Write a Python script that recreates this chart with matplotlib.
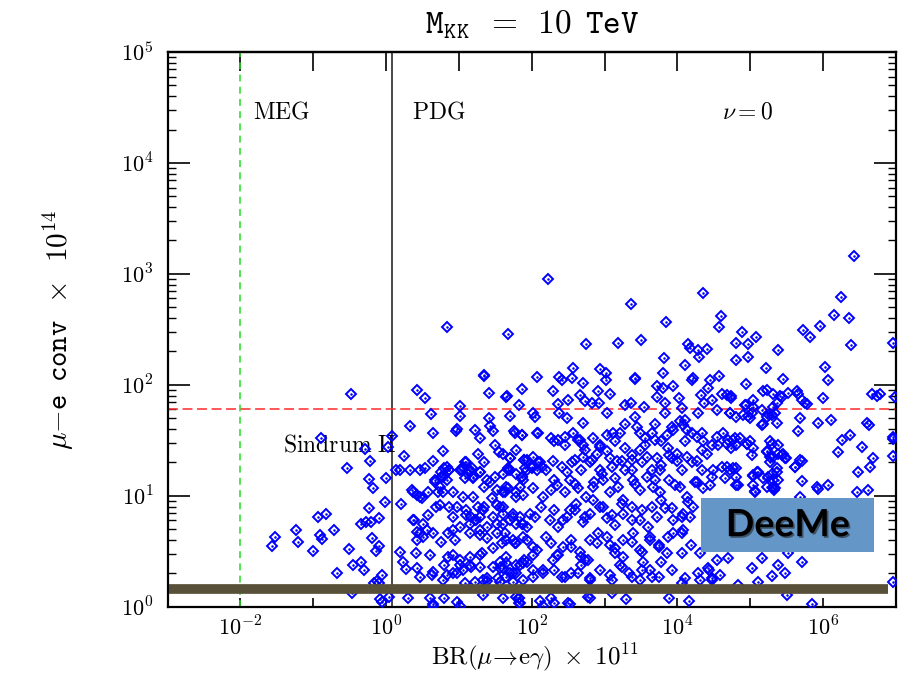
import numpy as np
import matplotlib
matplotlib.use('Agg')
import matplotlib.pyplot as plt
import matplotlib.patheffects as pe
from matplotlib.patches import Rectangle
from matplotlib.ticker import FixedLocator, FuncFormatter, NullFormatter, NullLocator, LogLocator

plt.rcParams.update({
    "mathtext.fontset": "cm",
    "font.family": "serif",
    "font.serif": ["DejaVu Serif"],
})

# limits drawn as lines
meg_limit = 0.01        # BR x 1e11
pdg_limit = 1.2
sindrum_limit = 60.0    # conv x 1e14
deeme_level = 1.43

# scan points, (log10 BR x 1e11, log10 conv x 1e14)
left_sparse = [
    (-0.48, 1.92), (-0.90, 1.52), (-0.29, 1.42), (-0.22, 1.31), (-0.54, 1.25), (-0.24, 1.15),
    (-0.18, 1.07), (-0.02, 0.94), (-0.23, 0.89), (-0.34, 0.75), (-0.27, 0.76), (-0.21, 0.76),
    (-0.10, 0.80), (-0.94, 0.81), (-0.83, 0.84), (-0.71, 0.69), (-1.24, 0.69), (-1.21, 0.58),
    (-1.52, 0.63), (-1.56, 0.55), (-0.91, 0.65), (-0.88, 0.61), (-1.01, 0.50), (-0.51, 0.52),
    (-0.20, 0.62), (-0.10, 0.55), (-0.14, 0.50), (-0.46, 0.38), (-0.34, 0.40), (-0.31, 0.33),
    (-0.68, 0.30), (-0.06, 0.29), (-0.13, 0.23), (-0.17, 0.21), (-0.10, 0.21), (-0.47, 0.12),
    (-0.09, 0.07), (-0.06, 0.04),
]

upper_sparse = [
    (0.83, 2.52), (1.67, 2.46), (1.35, 2.08), (1.41, 1.93), (1.86, 1.96), (1.64, 1.89), (1.66, 1.90),
    (1.82, 1.82), (0.42, 1.95), (0.54, 1.88), (1.01, 1.81), (0.62, 1.74), (1.02, 1.72), (1.70, 1.72),
    (1.41, 1.70), (1.35, 2.09), (2.22, 2.95), (6.42, 3.16), (4.35, 2.83), (3.36, 2.73), (3.84, 2.57),
    (4.60, 2.62), (4.57, 2.52), (6.24, 2.79), (6.15, 2.63), (6.35, 2.60), (6.38, 2.36), (5.96, 2.53),
    (5.72, 2.49), (5.82, 2.43), (4.88, 2.48), (4.81, 2.38), (5.08, 2.43), (4.97, 2.37), (4.97, 2.25),
    (4.81, 2.22), (5.38, 2.31), (6.96, 2.38), (2.75, 2.37), (3.18, 2.38), (3.50, 2.40), (4.14, 2.37),
    (4.17, 2.33), (4.28, 2.31), (4.29, 2.25), (4.40, 2.32), (3.81, 2.24), (4.11, 2.18), (3.80, 2.11),
    (4.21, 2.06), (4.44, 2.04), (4.57, 2.08), (4.42, 1.97), (5.21, 2.15), (5.45, 2.05), (4.94, 2.01),
    (6.02, 2.16), (6.06, 2.04), (6.00, 1.88), (2.07, 2.07), (2.56, 2.15), (2.55, 2.06), (2.41, 2.04),
    (2.38, 2.07), (2.70, 2.02), (2.93, 2.14), (3.02, 2.11), (3.02, 2.04), (3.41, 2.05), (3.42, 2.06),
    (2.29, 1.94), (2.36, 1.83), (2.50, 1.86), (2.66, 1.91), (2.73, 1.85), (2.82, 1.84), (3.07, 1.92),
    (2.91, 1.94), (2.92, 1.84), (3.28, 1.82), (3.36, 1.84), (3.54, 1.80), (3.72, 1.99), (3.80, 1.97),
    (3.94, 1.99), (3.72, 1.89), (3.83, 1.84), (4.02, 1.88), (4.06, 1.79), (4.32, 1.91), (4.48, 1.86),
    (4.61, 1.92), (4.73, 1.90), (4.36, 1.84), (4.54, 1.77), (4.72, 1.75), (4.81, 1.71), (4.94, 1.82),
    (5.04, 1.86), (5.04, 1.80), (4.97, 1.72), (5.23, 1.95), (5.31, 1.92), (5.41, 1.90), (5.36, 1.84),
    (5.34, 1.75), (5.52, 1.93), (5.66, 1.92), (5.71, 1.86), (5.78, 1.83), (6.67, 1.92), (6.74, 1.90),
    (6.78, 1.92), (6.98, 1.89), (5.16, 1.77), (5.18, 1.65), (5.25, 1.73), (5.36, 1.66), (5.68, 1.70),
    (5.66, 1.58), (5.93, 1.66), (6.11, 1.68), (6.60, 1.66), (6.63, 1.64), (6.37, 1.55), (6.26, 1.50),
    (6.20, 1.39), (2.02, 1.75), (2.04, 1.71), (2.38, 1.75), (2.48, 1.70), (2.70, 1.66), (3.03, 1.75),
    (3.28, 1.65), (3.41, 1.71), (3.69, 1.65), (3.83, 1.75), (3.92, 1.62), (4.10, 1.68), (4.28, 1.75),
    (4.20, 2.04), (4.68, 1.91), (4.74, 1.88), (5.17, 1.94), (5.43, 1.89), (5.64, 1.94), (5.75, 1.84),
    (4.92, 1.82), (4.90, 1.73), (5.02, 1.75), (4.99, 1.70), (4.72, 1.75), (5.31, 1.80), (5.23, 1.71),
    (5.30, 1.73), (5.16, 1.64),
]

pdg_band = [
    (0.33, 1.63), (0.64, 1.57), (0.96, 1.58), (0.98, 1.60), (1.22, 1.59), (1.29, 1.52), (1.47, 1.58),
    (1.42, 1.63), (1.75, 1.58), (1.86, 1.55), (0.08, 1.54), (0.02, 1.44), (1.50, 1.46), (1.55, 1.39),
    (1.78, 1.41), (1.70, 1.34), (1.89, 1.32), (0.24, 1.36), (0.78, 1.40), (1.26, 1.38), (0.65, 1.31),
    (1.09, 1.30), (1.06, 1.26), (1.18, 1.25), (1.29, 1.21), (1.19, 1.16), (1.15, 1.21), (1.67, 1.25),
    (1.70, 1.23), (1.91, 1.25), (0.14, 1.23), (0.19, 1.23), (0.33, 1.23), (0.46, 1.23), (0.53, 1.25),
    (0.80, 1.25), (0.87, 1.23), (0.78, 1.17), (0.76, 1.21), (0.83, 1.14), (1.01, 1.23), (1.08, 1.16),
    (1.12, 1.20), (0.67, 1.14), (0.74, 1.08), (1.35, 1.08), (1.42, 1.12), (1.86, 1.17), (1.84, 1.08),
    (0.00, 1.16), (1.60, 1.03), (1.52, 1.05), (1.67, 1.07), (0.35, 1.05), (0.37, 1.03), (0.42, 1.01),
    (0.49, 0.98), (0.21, 0.93), (0.71, 1.03), (0.78, 1.03), (0.74, 0.92), (0.69, 0.90), (0.92, 1.03),
    (1.06, 0.99), (0.97, 0.90), (0.87, 0.90), (1.19, 0.99), (1.10, 0.87), (1.17, 0.81), (1.22, 0.78),
    (1.29, 0.81), (1.33, 0.87), (1.26, 0.90), (1.52, 0.92), (1.56, 0.90), (1.47, 0.81), (1.61, 0.75),
    (1.74, 0.84), (1.79, 0.75), (1.84, 0.81), (1.88, 0.75), (1.93, 0.72), (0.19, 0.49), (0.23, 0.40),
    (0.27, 0.34), (0.41, 0.48), (0.43, 0.35), (0.46, 0.27), (0.60, 0.47), (0.64, 0.31), (0.63, 0.29),
    (0.80, 0.38), (0.83, 0.29), (0.78, 0.24), (0.92, 0.47), (0.92, 0.30), (0.98, 0.30), (1.01, 0.38),
    (1.15, 0.45), (1.17, 0.36), (1.31, 0.48), (1.47, 0.53), (1.56, 0.35), (1.65, 0.39), (1.79, 0.30),
    (1.84, 0.38), (1.93, 0.40), (1.08, 0.21), (1.22, 0.22), (1.33, 0.24), (1.38, 0.23), (1.56, 0.22),
    (1.65, 0.27), (0.30, 0.08), (0.65, 0.02), (0.80, 0.08), (0.97, 0.04), (1.01, 0.01), (1.61, 0.08),
    (1.82, 0.08), (1.84, 0.03), (0.04, 0.09), (0.56, 0.69), (0.64, 0.66), (0.76, 0.58), (0.85, 0.66),
    (0.92, 0.69), (1.01, 0.72), (1.15, 0.66), (1.29, 0.69), (1.38, 0.62), (1.52, 0.66), (1.65, 0.60),
    (1.79, 0.57), (0.39, 0.78), (0.46, 0.66), (0.42, 0.60), (0.46, 0.99), (0.57, 1.03), (1.35, 0.90),
    (1.45, 0.98), (1.63, 1.03), (1.79, 0.99), (1.88, 1.01), (0.37, 0.78), (0.51, 0.75), (0.57, 0.83),
    (0.92, 0.81), (1.10, 0.83), (1.15, 0.75), (1.24, 0.78), (1.38, 0.72), (1.52, 0.75), (1.61, 0.84),
    (1.70, 0.78), (2.04, 0.81), (0.42, 0.67), (0.51, 0.63), (0.94, 0.60), (1.29, 0.65), (1.59, 0.57),
    (1.74, 0.60), (1.88, 0.63), (2.02, 0.54), (0.85, 0.45), (1.01, 0.42), (1.06, 0.33), (1.15, 0.38),
    (1.29, 0.47), (1.29, 0.36), (1.47, 0.36), (1.56, 0.40), (1.65, 0.45), (1.70, 0.30), (1.79, 0.38),
    (1.90, 0.42), (2.02, 0.47), (1.38, 0.26), (1.53, 0.26), (1.74, 0.22), (1.88, 0.24), (2.02, 0.33),
    (2.15, 0.30), (0.60, 0.08), (1.33, 0.11), (1.79, 0.09), (2.15, 0.01), (0.64, 0.01), (1.90, 1.32),
    (2.01, 1.35), (2.08, 1.30), (2.14, 1.26), (2.07, 1.23), (2.00, 1.25), (0.67, 1.12), (0.76, 1.17),
    (0.87, 1.23), (0.83, 1.26), (1.04, 1.23), (1.10, 1.30), (1.15, 1.23), (1.19, 1.17), (1.29, 1.21),
    (1.35, 1.30), (1.38, 1.14), (1.49, 1.17), (1.60, 1.20), (1.67, 1.23), (1.79, 1.20), (1.86, 1.17),
    (1.93, 1.23), (2.08, 1.57),
]

core = [
    (1.77, 1.57), (1.86, 1.55), (2.07, 1.57), (2.27, 1.52), (2.31, 1.49), (2.36, 1.50), (2.45, 1.53),
    (2.56, 1.57), (2.66, 1.50), (2.70, 1.46), (2.84, 1.52), (2.93, 1.44), (3.03, 1.55), (3.11, 1.57),
    (3.21, 1.57), (3.28, 1.43), (3.44, 1.62), (3.49, 1.57), (3.55, 1.52), (3.65, 1.57), (3.69, 1.50),
    (3.85, 1.55), (3.94, 1.59), (4.03, 1.67), (4.08, 1.64), (4.13, 1.59), (4.20, 1.57), (4.27, 1.53),
    (4.34, 1.57), (4.35, 1.49), (1.70, 1.34), (1.61, 1.38), (1.93, 1.32), (2.00, 1.26), (2.11, 1.30),
    (2.20, 1.23), (2.29, 1.31), (2.41, 1.26), (2.48, 1.21), (2.59, 1.32), (2.70, 1.35), (2.80, 1.30),
    (2.89, 1.38), (2.93, 1.23), (3.07, 1.34), (3.17, 1.31), (3.28, 1.23), (3.37, 1.32), (3.49, 1.41),
    (3.58, 1.35), (3.72, 1.34), (3.76, 1.23), (3.89, 1.37), (3.99, 1.31), (4.13, 1.35), (4.27, 1.31),
    (4.40, 1.38), (4.49, 1.23), (1.65, 1.08), (1.79, 1.03), (1.88, 1.14), (2.02, 1.07), (2.15, 0.99),
    (2.27, 1.05), (2.34, 1.10), (2.45, 1.03), (2.52, 1.14), (2.63, 1.07), (2.75, 0.99), (2.84, 1.08),
    (2.98, 1.14), (3.07, 1.03), (3.19, 1.08), (3.25, 0.96), (3.39, 1.14), (3.49, 1.05), (3.58, 1.17),
    (3.67, 1.08), (3.76, 1.03), (3.89, 1.14), (4.03, 1.08), (4.13, 0.99), (4.27, 1.12), (4.35, 1.07),
    (4.44, 1.10), (1.61, 0.90), (1.74, 0.81), (1.86, 0.75), (1.97, 0.84), (2.13, 0.90), (2.25, 0.78),
    (2.36, 0.72), (2.48, 0.81), (2.59, 0.87), (2.70, 0.76), (2.80, 0.84), (2.93, 0.90), (3.03, 0.80),
    (3.14, 0.74), (3.25, 0.84), (3.37, 0.90), (3.49, 0.78), (3.60, 0.72), (3.72, 0.81), (3.83, 0.89),
    (3.94, 0.78), (4.08, 0.84), (4.17, 0.81), (4.21, 0.90), (1.63, 0.66), (1.77, 0.57), (1.93, 0.60),
    (2.07, 0.51), (2.20, 0.63), (2.34, 0.47), (2.43, 0.54), (2.54, 0.60), (2.66, 0.49), (2.77, 0.42),
    (2.89, 0.57), (3.03, 0.63), (3.14, 0.53), (3.25, 0.45), (3.37, 0.58), (3.49, 0.51), (3.62, 0.63),
    (3.74, 0.56), (3.85, 0.48), (3.94, 0.66), (4.06, 0.66), (4.08, 0.69), (1.61, 0.35), (1.74, 0.30),
    (1.88, 0.39), (2.02, 0.27), (2.15, 0.33), (2.29, 0.42), (2.41, 0.27), (2.54, 0.30), (2.68, 0.38),
    (2.80, 0.26), (2.93, 0.33), (3.07, 0.29), (3.21, 0.38), (3.34, 0.30), (3.49, 0.24), (3.62, 0.33),
    (3.74, 0.27), (3.53, 0.40), (2.73, 0.42), (2.31, 0.87), (2.43, 0.78), (2.52, 0.87), (2.61, 0.93),
    (2.73, 0.81), (2.84, 0.96), (2.98, 0.90), (3.10, 0.83), (3.24, 0.93), (3.37, 0.78), (3.51, 0.87),
    (3.65, 0.90), (3.78, 0.96), (3.92, 0.89), (4.06, 0.81), (4.14, 0.94), (2.27, 0.57), (2.36, 0.47),
    (2.54, 0.54), (2.68, 0.45), (2.80, 0.60), (2.91, 0.66), (3.07, 0.56), (3.14, 0.48), (3.25, 0.60),
    (3.39, 0.66), (3.51, 0.49), (3.62, 0.60), (3.74, 0.54), (3.87, 0.63), (4.42, 0.35), (2.31, 0.33),
    (2.45, 0.27), (2.63, 0.30), (2.80, 0.24), (3.10, 0.24), (3.24, 0.36), (3.37, 0.27), (3.51, 0.33),
    (3.65, 0.27), (3.78, 0.40), (3.92, 0.33), (4.10, 0.26), (4.31, 0.24), (4.47, 0.24), (2.50, 0.03),
    (2.77, 0.09), (2.45, 1.46), (2.63, 1.50), (2.73, 1.41), (2.93, 1.46), (3.03, 1.40), (3.14, 1.49),
    (3.37, 1.37), (3.55, 1.46), (3.78, 1.49), (3.87, 1.43), (3.99, 1.38), (4.10, 1.49), (4.33, 1.41),
    (4.47, 1.46), (2.55, 1.30), (2.68, 1.23), (2.82, 1.32), (2.96, 1.20), (3.10, 1.26), (3.24, 1.31),
    (3.37, 1.23), (3.51, 1.30), (3.65, 1.23), (3.78, 1.28), (3.92, 1.34), (4.06, 1.23), (4.20, 1.30),
    (4.33, 1.23), (4.47, 1.17), (2.31, 1.14), (2.59, 1.11), (2.86, 1.12), (3.14, 1.16), (3.41, 1.11),
    (3.69, 1.14), (3.96, 1.10), (4.24, 1.12), (2.11, 0.05), (2.27, 0.08), (2.31, 0.03), (2.52, 0.02),
    (2.80, 0.08), (3.30, 0.07), (3.10, 0.12), (1.83, 0.03), (1.83, 0.08), (3.89, 0.08), (4.16, 0.05),
    (4.06, 0.21), (4.06, 0.48), (4.19, 0.56), (4.31, 0.48), (4.54, 0.42), (4.70, 0.44), (4.28, 0.30),
    (4.47, 0.26), (4.58, 0.29), (4.43, 0.33),
]

right_side = [
    (5.16, 0.44), (5.38, 0.38), (5.71, 0.40), (5.47, 0.30), (5.30, 0.28), (5.10, 0.22), (5.02, 0.35),
    (4.83, 0.20), (5.50, 0.11), (5.52, 0.48), (5.85, 0.02), (6.96, 0.22), (5.93, 1.06), (5.71, 1.13),
    (5.71, 1.31), (5.61, 1.26), (5.45, 1.38), (5.49, 1.34), (5.38, 1.38), (5.27, 1.35), (5.23, 1.39),
    (5.30, 1.47), (5.36, 1.21), (5.24, 1.17), (5.09, 1.21), (5.04, 1.18), (5.31, 1.08), (5.32, 1.05),
    (5.06, 1.03), (5.68, 0.99), (6.53, 1.44), (6.68, 1.34), (6.64, 1.26), (6.48, 1.21), (6.61, 1.05),
    (6.47, 1.03), (6.96, 1.53), (6.96, 1.51), (6.96, 1.36), (4.54, 1.53), (4.56, 1.46), (4.68, 1.47),
    (4.76, 1.50), (4.86, 1.52), (4.95, 1.47), (5.04, 1.43), (4.61, 1.26), (4.72, 1.23), (4.81, 1.25),
    (4.81, 1.10), (5.06, 1.04), (5.31, 1.07), (4.63, 1.57), (4.69, 1.50), (4.79, 1.52), (4.74, 1.43),
    (4.81, 1.46), (4.99, 1.49), (5.02, 1.37), (4.95, 1.47), (5.27, 1.49), (5.38, 1.46), (5.23, 1.40),
    (5.31, 1.35), (5.43, 1.37), (5.48, 1.34), (5.27, 1.30), (5.36, 1.25), (5.68, 1.32), (5.61, 1.26),
    (4.68, 1.26), (4.76, 1.25), (4.65, 1.16), (4.81, 1.17), (5.04, 1.19), (5.11, 1.21), (5.18, 1.16),
    (5.30, 1.20), (5.31, 1.14), (5.38, 1.14), (4.83, 1.10), (5.04, 1.10), (5.23, 1.08), (5.34, 1.07),
    (5.91, 1.08), (6.07, 1.10),
]

title_text = r'$\mathtt{M_{KK}}\enspace\mathtt{=}\enspace\mathtt{10}\enspace\mathtt{TeV}$'
xlabel_text = r'$\mathrm{BR}(\mu\!\rightarrow\!\mathrm{e}\gamma)\ \times\ 10^{11}$'
ylabel_text = r'$\mu\mathtt{-e}\enspace\mathtt{conv}\enspace\times\enspace\mathtt{10^{14}}$'


def make_plot():
    pts = np.array(left_sparse + upper_sparse + pdg_band + core + right_side)
    br = 10.0 ** pts[:, 0]
    conv = 10.0 ** pts[:, 1]

    fig = plt.figure(figsize=(9.16, 6.76), dpi=100)
    ax = fig.add_axes([0.1829, 0.1025, 0.7953, 0.8206])
    ax.set_xscale('log')
    ax.set_yscale('log')
    ax.set_xlim(1e-3, 1e7)
    ax.set_ylim(1, 1e5)

    blue = '#0000ff'
    ax.plot(br, conv, ls='none', marker='D', ms=4.8, mfc='none', mec=blue, mew=1.4, zorder=3)
    ax.plot(br, conv, ls='none', marker='.', ms=1.6, color=blue, zorder=3)

    # experimental bounds
    ax.axvline(meg_limit, color='#22dd22', lw=1.1, dashes=(4.5, 3.5), zorder=2)
    ax.axvline(pdg_limit, color='#3a3a3a', lw=1.3, zorder=2)
    ax.axhline(sindrum_limit, color='#ff2a2a', lw=1.1, dashes=(6.5, 3.0), zorder=2)
    ax.plot([1.06e-3, 7.7e6], [deeme_level, deeme_level], color='#585039', lw=7,
            solid_capstyle='butt', zorder=4)

    ax.text(0.0148, 2.9e4, r'$\mathrm{MEG}$', fontsize=17, ha='left', va='center')
    ax.text(2.24, 2.9e4, r'$\mathrm{PDG}$', fontsize=17, ha='left', va='center')
    ax.text(4.1e4, 2.9e4, r'$\nu{=}0$', fontsize=17, ha='left', va='center')
    ax.text(0.038, 28.5, r'$\mathrm{Sindrum\ II}$', fontsize=17, ha='left', va='center', zorder=2.5)

    # DeeMe box
    ax.add_patch(Rectangle((0.732, 0.0986), 0.238, 0.0974, transform=ax.transAxes,
                           facecolor='#6497c8', edgecolor='none', zorder=5))
    ax.text(0.851, 0.147, 'DeeMe', transform=ax.transAxes, family='Lato', weight='bold',
            fontsize=27, ha='center', va='center', zorder=6,
            path_effects=[pe.SimplePatchShadow(offset=(1.2, -1.2), shadow_rgbFace='0.15', alpha=0.6),
                          pe.Normal()])

    # axes styling
    for s in ax.spines.values():
        s.set_linewidth(1.6)
    ax.xaxis.set_major_locator(FixedLocator(10.0 ** np.arange(-3, 8)))
    ax.xaxis.set_minor_locator(NullLocator())
    ax.xaxis.set_major_formatter(FuncFormatter(
        lambda v, p: (r'$10^{%d}$' % round(np.log10(v))) if round(np.log10(v)) % 2 == 0 else ''))
    ax.yaxis.set_major_locator(FixedLocator(10.0 ** np.arange(0, 6)))
    ax.yaxis.set_minor_locator(LogLocator(base=10, subs=np.arange(2, 10)))
    ax.yaxis.set_minor_formatter(NullFormatter())
    ax.yaxis.set_major_formatter(FuncFormatter(lambda v, p: r'$10^{%d}$' % round(np.log10(v))))
    ax.tick_params(axis='x', which='major', direction='in', length=6.5, width=1.2,
                   labelsize=16, pad=7, top=False)
    ax.tick_params(axis='y', which='major', direction='in', length=16, width=1.2,
                   labelsize=16, pad=10, right=True)
    ax.tick_params(axis='y', which='minor', direction='in', length=6, width=1.0, right=True)

    top = ax.secondary_xaxis('top')
    top.xaxis.set_major_locator(FixedLocator(10.0 ** np.arange(-3, 8)))
    top.xaxis.set_minor_locator(NullLocator())
    top.xaxis.set_major_formatter(NullFormatter())
    top.tick_params(direction='in', length=14, width=1.2)
    top.spines['top'].set_linewidth(1.6)

    ax.set_xlabel(xlabel_text, fontsize=18)
    ax.xaxis.set_label_coords(0.504, -0.062)
    ax.set_ylabel(ylabel_text, fontsize=21)
    ax.yaxis.set_label_coords(-0.125, 0.50)

    fig.text(0.581, 0.963, title_text, fontsize=24, ha='center', va='center')

    fig.savefig('out.png', dpi=100)


if __name__ == '__main__':
    make_plot()
